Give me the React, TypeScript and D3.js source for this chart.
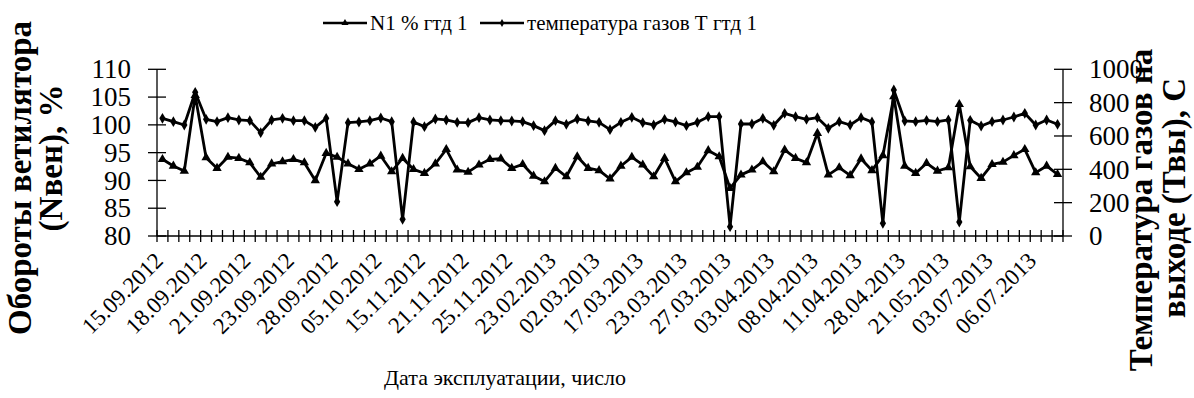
import React from 'react';
import * as d3 from 'd3';

const tickLabels = [
  '15.09.2012', '18.09.2012', '21.09.2012', '23.09.2012', '28.09.2012', '05.10.2012',
  '15.11.2012', '21.11.2012', '25.11.2012', '23.02.2013', '02.03.2013', '17.03.2013',
  '23.03.2013', '27.03.2013', '03.04.2013', '08.04.2013', '11.04.2013', '28.04.2013',
  '21.05.2013', '03.07.2013', '06.07.2013',
];
const labelStep = 4;
const categoryCount = 83;

const n1Values = [
  93.8, 92.6, 91.7, 105.3, 94.1, 92.2, 94.2, 94.0, 93.2, 90.6,
  93.0, 93.4, 93.8, 93.2, 90.0, 94.9, 94.2, 93.0, 92.0, 93.0,
  94.4, 91.6, 94.0, 92.0, 91.3, 93.0, 95.6, 91.9, 91.5, 92.8,
  93.8, 93.9, 92.2, 92.9, 90.8, 89.8, 92.2, 90.7, 94.3, 92.2,
  91.8, 90.3, 92.6, 94.2, 92.8, 90.7, 94.0, 89.8, 91.4, 92.4,
  95.4, 94.3, 88.6, 91.0, 91.9, 93.4, 91.6, 95.5, 94.0, 93.2,
  98.5, 91.0, 92.3, 90.9, 93.9, 91.8, 94.5, 105.1, 92.6, 91.3,
  93.1, 91.7, 92.3, 103.7, 92.5, 90.4, 92.9, 93.3, 94.5, 95.6,
  91.4, 92.6, 91.1,
];

const tempValues = [
  706, 686, 666, 862, 700, 686, 710, 696, 692, 620,
  696, 706, 692, 692, 652, 706, 206, 680, 684, 692,
  708, 686, 100, 684, 656, 702, 696, 682, 680, 710,
  696, 692, 690, 686, 662, 632, 692, 670, 702, 690,
  682, 638, 682, 712, 680, 666, 700, 684, 662, 682,
  716, 716, 56, 672, 672, 706, 664, 736, 716, 700,
  710, 646, 686, 666, 710, 684, 76, 876, 690, 686,
  694, 686, 696, 84, 694, 660, 686, 696, 714, 736,
  666, 696, 670,
];

const leftTicks = [80, 85, 90, 95, 100, 105, 110];
const rightTicks = [0, 200, 400, 600, 800, 1000];

const seriesNames = ['N1 % гтд 1', 'температура газов Т гтд 1'];

const W = 1194;
const H = 398;
const FONT = "'Liberation Serif', 'Times New Roman', Times, 'DejaVu Serif', serif";

export default function App() {
  const x = d3.scaleBand<number>().domain(d3.range(categoryCount)).range([157, 1063]);
  const yL = d3.scaleLinear().domain([80, 110]).range([236, 69.3]);
  const yR = d3.scaleLinear().domain([0, 1000]).range([236, 69.3]);
  const cx = (i: number) => (x(i) as number) + x.bandwidth() / 2;

  const lineN1 = d3.line<number>().x((_, i) => cx(i)).y((d) => yL(d));
  const lineT = d3.line<number>().x((_, i) => cx(i)).y((d) => yR(d));

  const tri = d3.symbol().type(d3.symbolTriangle).size(38)();
  const dia = d3.symbol().type(d3.symbolDiamond).size(34)();

  const bounds = d3.range(categoryCount + 1).map((k) => 157 + k * x.bandwidth());
  const yAxisY = yL(80);
  const ts = { fontFamily: FONT };

  return (
    <svg width={W} height={H} style={{ position: 'absolute', left: 0, top: 0, background: '#fff', fontFamily: FONT }}>
      <rect x={0} y={0} width={W} height={H} fill="#fff" />
      {/* legend */}
      <g>
        <line x1={323} x2={367} y1={23} y2={23} stroke="#000" strokeWidth={2.5} />
        <path d={d3.symbol().type(d3.symbolTriangle).size(22)()!} transform="translate(345,23)" fill="#000" />
        <text x={370} y={30} fontSize={21} fill="#000" style={ts}>{seriesNames[0]}</text>
        <line x1={480} x2={524} y1={23} y2={23} stroke="#000" strokeWidth={2.5} />
        <path d={d3.symbol().type(d3.symbolDiamond).size(18)()!} transform="translate(502,23)" fill="#000" />
        <text x={527} y={30} fontSize={21} fill="#000" style={ts}>{seriesNames[1]}</text>
      </g>

      {/* left axis */}
      <line x1={157} x2={157} y1={yL(110)} y2={yAxisY} stroke="#000" strokeWidth={1.3} />
      {leftTicks.map((t) => (
        <g key={'l' + t}>
          <line x1={148} x2={166} y1={yL(t)} y2={yL(t)} stroke="#000" strokeWidth={1.3} />
          <text x={131} y={yL(t)} dy="0.34em" textAnchor="end" fontSize={27} fill="#000" style={ts}>{t}</text>
        </g>
      ))}

      {/* right axis */}
      <line x1={1063} x2={1063} y1={yR(1000)} y2={yR(0)} stroke="#000" strokeWidth={1.3} />
      {rightTicks.map((t) => (
        <g key={'r' + t}>
          <line x1={1054} x2={1072} y1={yR(t)} y2={yR(t)} stroke="#000" strokeWidth={1.3} />
          <text x={1089} y={yR(t)} dy="0.34em" textAnchor="start" fontSize={27} fill="#000" style={ts}>{t}</text>
        </g>
      ))}

      {/* x axis */}
      <line x1={157} x2={1063} y1={yAxisY} y2={yAxisY} stroke="#000" strokeWidth={1.3} />
      {bounds.map((b, k) => (
        <line key={'xt' + k} x1={b} x2={b} y1={yAxisY - 6} y2={yAxisY + 6} stroke="#000" strokeWidth={1.3} />
      ))}
      {tickLabels.map((lab, j) => {
        const px = cx(j * labelStep) + 2;
        const py = 262;
        return (
          <text key={'xl' + j} x={px} y={py} textAnchor="end" fontSize={23} fill="#000" style={ts}
            transform={`rotate(-45 ${px} ${py})`}>{lab}</text>
        );
      })}

      {/* series */}
      <path d={lineN1(n1Values)!} fill="none" stroke="#000" strokeWidth={2.8} strokeLinejoin="round" />
      <path d={lineT(tempValues)!} fill="none" stroke="#000" strokeWidth={2.8} strokeLinejoin="round" />
      {n1Values.map((v, i) => (
        <path key={'m1' + i} d={tri!} transform={`translate(${cx(i)},${yL(v)})`} fill="#000" />
      ))}
      {tempValues.map((v, i) => (
        <path key={'m2' + i} d={dia!} transform={`translate(${cx(i)},${yR(v)})`} fill="#000" />
      ))}

      {/* axis titles */}
      <text x={505} y={385} textAnchor="middle" fontSize={22} fill="#000" style={ts}>Дата эксплуатации, число</text>
      <text transform="translate(31,178) rotate(-90)" textAnchor="middle" fontSize={33} fontWeight="bold" fill="#000" style={ts}>Обороты ветилятора</text>
      <text transform="translate(62,158) rotate(-90)" textAnchor="middle" fontSize={33} fontWeight="bold" fill="#000" style={ts}>(Nвен), %</text>
      <text transform="translate(1152,210) rotate(-90)" textAnchor="middle" fontSize={33} fontWeight="bold" fill="#000" style={ts}>Температура газов на</text>
      <text transform="translate(1185,198) rotate(-90)" textAnchor="middle" fontSize={33} fontWeight="bold" fill="#000" style={ts}>выходе (Твы), С</text>
    </svg>
  );
}
